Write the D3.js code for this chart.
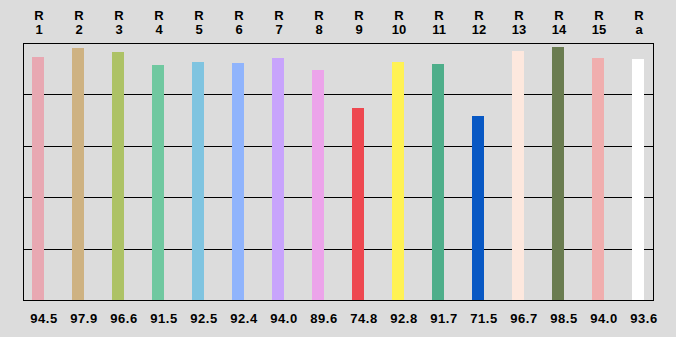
<!DOCTYPE html>
<html>
<head>
<meta charset="utf-8">
<script src="https://cdn.jsdelivr.net/npm/d3@7"></script>
<style>
  html, body { margin: 0; padding: 0; background: #dcdcdc; }
  svg text { font-family: "Liberation Sans", Arial, sans-serif; font-weight: bold; font-size: 13px; fill: #000; }
</style>
</head>
<body>
<svg id="chart" width="676" height="337"></svg>
<script>
// categories (top labels, second line)
var categories = ["1", "2", "3", "4", "5", "6", "7", "8", "9", "10", "11", "12", "13", "14", "15", "a"];
// values shown under each bar
var values = [94.5, 97.9, 96.6, 91.5, 92.5, 92.4, 94.0, 89.6, 74.8, 92.8, 91.7, 71.5, 96.7, 98.5, 94.0, 93.6];
var colors = ["#e8a8b2", "#ceb282", "#adc266", "#70c8a0", "#80c4e0", "#90b4fc", "#c8a4fc", "#eca4ea",
              "#ee4850", "#fff254", "#4eae8a", "#0858c4", "#fde8de", "#6a7c50", "#f0aeae", "#ffffff"];
var gridValues = [20, 40, 60, 80];

(function () {
    var svg = d3.select("#chart"),
        plotLeft = 23, plotRight = 653, plotTop = 43, plotBottom = 300,
        barW = 12;

    var x = d3.scaleBand()
        .domain(categories)
        .range([18, 658]);

    var y = d3.scaleLinear()
        .domain([0, 100])
        .range([plotBottom, plotTop]);

    function cx(cat) {
        return x(cat) + x.bandwidth() / 2;
    }

    // gridlines
    svg.append("g")
        .selectAll("line")
        .data(gridValues)
        .enter()
        .append("line")
        .attr("x1", plotLeft)
        .attr("x2", plotRight)
        .attr("y1", function (d) { return Math.round(y(d)) + 0.5; })
        .attr("y2", function (d) { return Math.round(y(d)) + 0.5; })
        .attr("stroke", "#000")
        .attr("stroke-width", 1);

    // bars
    svg.append("g")
        .selectAll("rect")
        .data(values)
        .enter()
        .append("rect")
        .attr("x", function (d, i) { return cx(categories[i]) - barW / 2; })
        .attr("y", function (d) { return Math.round(y(d)); })
        .attr("width", barW)
        .attr("height", function (d) { return plotBottom - Math.round(y(d)); })
        .attr("fill", function (d, i) { return colors[i]; });

    // frame
    svg.append("rect")
        .attr("x", plotLeft + 0.5)
        .attr("y", plotTop + 0.5)
        .attr("width", plotRight - plotLeft)
        .attr("height", plotBottom - plotTop)
        .attr("fill", "none")
        .attr("stroke", "#000")
        .attr("stroke-width", 1);

    // top labels
    var topLabels = svg.append("g")
        .selectAll("text")
        .data(categories)
        .enter()
        .append("text")
        .attr("text-anchor", "middle");

    topLabels.append("tspan")
        .attr("x", function (d) { return cx(d) + 1; })
        .attr("y", 20)
        .text("R");
    topLabels.append("tspan")
        .attr("x", function (d) { return cx(d) + 1; })
        .attr("y", 34)
        .text(function (d) { return d; });

    // value labels
    svg.append("g")
        .selectAll("text")
        .data(values)
        .enter()
        .append("text")
        .attr("text-anchor", "middle")
        .attr("x", function (d, i) { return cx(categories[i]) + 6; })
        .attr("y", 323)
        .style("letter-spacing", "0.5px")
        .text(function (d) { return d.toFixed(1); });
})();
</script>
</body>
</html>
